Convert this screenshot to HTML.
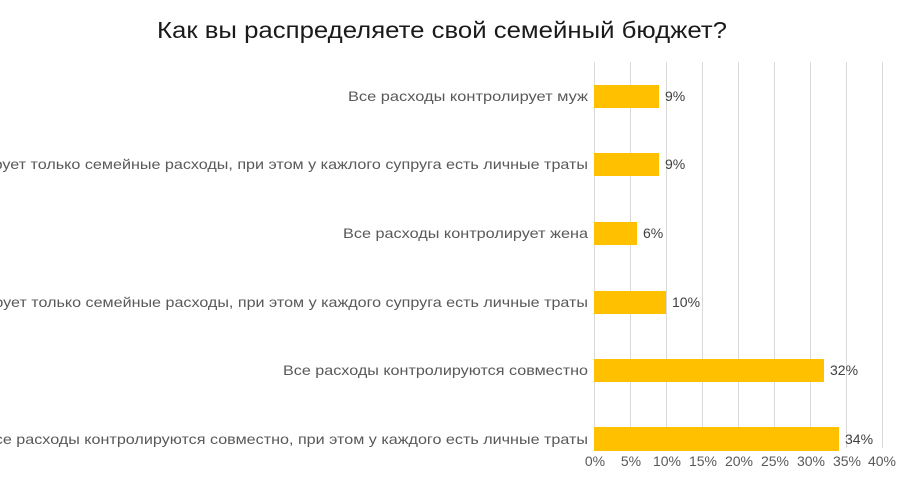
<!DOCTYPE html>
<html><head><meta charset="utf-8"><style>
body{margin:0;background:#fff;}
svg{display:block;font-family:"Liberation Sans","Noto Sans CJK SC",sans-serif;}
</style></head><body>
<svg width="900" height="500" viewBox="0 0 900 500">
<rect width="900" height="500" fill="#fff"/>
<text x="442" y="38" text-anchor="middle" font-size="23" fill="#1a1a1a" textLength="570" lengthAdjust="spacingAndGlyphs">Как вы распределяете свой семейный бюджет?</text>
<g stroke="#d9d9d9" stroke-width="1">
<line x1="594.5" y1="62" x2="594.5" y2="448"/>
<line x1="630.5" y1="62" x2="630.5" y2="448"/>
<line x1="666.5" y1="62" x2="666.5" y2="448"/>
<line x1="702.5" y1="62" x2="702.5" y2="448"/>
<line x1="738.5" y1="62" x2="738.5" y2="448"/>
<line x1="774.5" y1="62" x2="774.5" y2="448"/>
<line x1="810.5" y1="62" x2="810.5" y2="448"/>
<line x1="846.5" y1="62" x2="846.5" y2="448"/>
<line x1="882.5" y1="62" x2="882.5" y2="448"/>
</g>
<g fill="#ffc000">
<rect x="594" y="85" width="65" height="23"/>
<rect x="594" y="153" width="65" height="23"/>
<rect x="594" y="222" width="43" height="23"/>
<rect x="594" y="291" width="72" height="23"/>
<rect x="594" y="359" width="230" height="23"/>
<rect x="594" y="427" width="245" height="24"/>
</g>
<g font-size="14" fill="#404040">
<text x="665" y="101">9%</text>
<text x="665" y="169">9%</text>
<text x="643" y="238">6%</text>
<text x="672" y="307">10%</text>
<text x="830" y="375">32%</text>
<text x="845" y="444">34%</text>
</g>
<g font-size="14" fill="#595959" text-anchor="end">
<text x="588" y="101" textLength="240" lengthAdjust="spacingAndGlyphs">Все расходы контролирует муж</text>
<text x="588" y="169" textLength="700" lengthAdjust="spacingAndGlyphs">Муж контролирует только семейные расходы, при этом у кажлого супруга есть личные траты</text>
<text x="588" y="238" textLength="245" lengthAdjust="spacingAndGlyphs">Все расходы контролирует жена</text>
<text x="588" y="307" textLength="708" lengthAdjust="spacingAndGlyphs">Жена контролирует только семейные расходы, при этом у каждого супруга есть личные траты</text>
<text x="588" y="375" textLength="305" lengthAdjust="spacingAndGlyphs">Все расходы контролируются совместно</text>
<text x="588" y="444" textLength="604" lengthAdjust="spacingAndGlyphs">Все расходы контролируются совместно, при этом у каждого есть личные траты</text>
</g>
<g font-size="14" fill="#595959" text-anchor="middle">
<text x="595" y="466">0%</text>
<text x="631" y="466">5%</text>
<text x="667" y="466">10%</text>
<text x="703" y="466">15%</text>
<text x="739" y="466">20%</text>
<text x="775" y="466">25%</text>
<text x="811" y="466">30%</text>
<text x="847" y="466">35%</text>
<text x="882" y="466">40%</text>
</g>
</svg>
</body></html>
